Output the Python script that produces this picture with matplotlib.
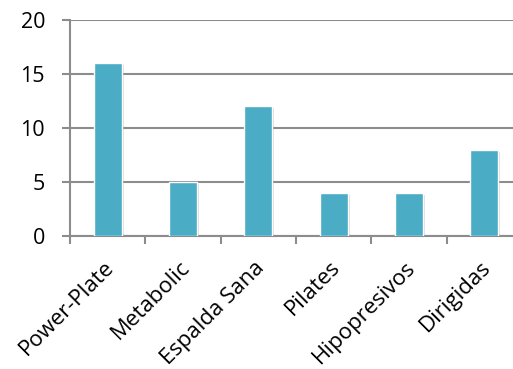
import matplotlib.pyplot as plt
import matplotlib.patheffects as pe
import matplotlib.transforms as mtransforms
import numpy as np

# data
categories = ['Power-Plate', 'Metabolic', 'Espalda Sana', 'Pilates', 'Hipopresivos', 'Dirigidas']
values = [16, 5, 12, 4, 4, 8]
yticks = [0, 5, 10, 15, 20]

plt.rcParams['font.family'] = ['Open Sans', 'DejaVu Sans']

fig = plt.figure(figsize=(5.13, 3.69), dpi=100)
# axes run a bit past the right edge, like the original
ax = fig.add_axes([70/513, 133/369, 452/513, 216/369])

x = np.arange(len(categories))
bars = ax.bar(x, values, width=0.37, color='#4BACC6', edgecolor='white', linewidth=1, zorder=3)
for b in bars:
    b.set_path_effects([pe.SimplePatchShadow(offset=(1.5, -1.5), shadow_rgbFace='#999999', alpha=0.35), pe.Normal()])

ax.set_xlim(-0.5, len(categories) - 0.5)
ax.set_ylim(0, 20)
ax.set_yticks(yticks)
ax.yaxis.grid(True, color='#8c8c8c', linewidth=1.5, zorder=0)

ax.set_xticks(x)
ax.set_xticklabels(categories, rotation=45, ha='right', rotation_mode='anchor', fontsize=16)
ax.set_xticks(np.arange(len(categories) + 1) - 0.5, minor=True)
ax.tick_params(axis='x', which='major', length=0, pad=13)
ax.tick_params(axis='x', which='minor', length=6, width=1.5, color='#8c8c8c', direction='out')
ax.tick_params(axis='y', length=6, width=1.5, color='#8c8c8c', labelsize=15.5, pad=12)

# nudge the rotated labels a bit left and down
shift = mtransforms.ScaledTranslation(-4/100, -3/100, fig.dpi_scale_trans)
for lbl in ax.get_xticklabels():
    lbl.set_transform(lbl.get_transform() + shift)

for s in ['top', 'right']:
    ax.spines[s].set_visible(False)
for s in ['left', 'bottom']:
    ax.spines[s].set_color('#8c8c8c')
    ax.spines[s].set_linewidth(1.5)

fig.savefig('out.png', dpi=100)
